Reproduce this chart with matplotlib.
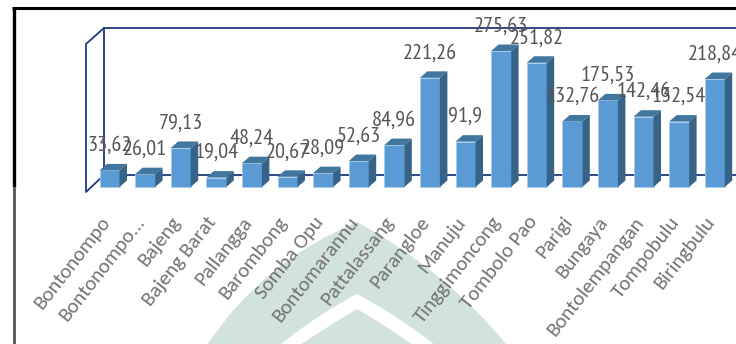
import matplotlib
matplotlib.use("Agg")
import matplotlib.pyplot as plt
from matplotlib.patches import Polygon, PathPatch
from matplotlib.path import Path
from matplotlib.transforms import ScaledTranslation

districts = ["Bontonompo", "Bontonompo...", "Bajeng", "Bajeng Barat", "Pallangga",
             "Barombong", "Somba Opu", "Bontomarannu", "Pattalassang", "Parangloe",
             "Manuju", "Tinggimoncong", "Tombolo Pao", "Parigi", "Bungaya",
             "Bontolempangan", "Tompobulu", "Biringbulu"]
values = [33.62, 26.01, 79.13, 19.04, 48.24, 20.67, 28.09, 52.63, 84.96,
          221.26, 91.9, 275.63, 251.82, 132.76, 175.53, 142.46, 132.54, 218.84]
value_labels = ["33,62", "26,01", "79,13", "19,04", "48,24", "20,67", "28,09", "52,63",
                "84,96", "221,26", "91,9", "275,63", "251,82", "132,76", "175,53",
                "142,46", "132,54", "218,84"]

W, H = 736, 344
FRONT, TOP, SIDE, EDGE = "#5B9BD5", "#41779F", "#376388", "#A9CCEA"
NAVY = "#1F3A7D"
TEXT = "#555555"
TICK = "#737373"

fig = plt.figure(figsize=(W / 100, H / 100), dpi=100, facecolor="white")

# Pixel-space layer for the page frame, the backdrop emblem and the chart walls
page = fig.add_axes([0, 0, 1, 1], zorder=0)
page.set_xlim(0, W)
page.set_ylim(H, 0)
page.axis("off")


def arch(verts, color):
    codes = [Path.MOVETO, Path.CURVE3, Path.CURVE3, Path.CURVE3, Path.CURVE3, Path.CLOSEPOLY]
    page.add_patch(PathPatch(Path(verts + [verts[0]], codes), fc=color, ec="none"))


arch([(207, 345), (262, 262), (357, 222), (445, 270), (507, 345)], "#D2E3DD")
arch([(280, 345), (315, 316), (357, 294), (395, 314), (435, 345)], "white")
arch([(300, 345), (328, 326), (357, 309), (385, 325), (413, 345)], "#D2E3DD")

# Page frame
page.plot([13.5, 13.5], [8, 187], color="black", lw=2.4, solid_capstyle="butt")
page.plot([13.5, 13.5], [187, 344], color="#555555", lw=2.0, solid_capstyle="butt")
page.plot([12, 736], [8, 8], color="black", lw=2.2, solid_capstyle="butt")

# Chart walls and floor
page.plot([736, 104, 104, 736], [28, 28, 175, 175], color=NAVY, lw=1.3)
page.plot([104, 86, 86, 104], [28, 44, 192, 175], color=NAVY, lw=1.3)

# Data axes: value 0 lies on the front base line of the columns
PX_PER_UNIT = 0.4934
PX_PER_CAT = 35.6
x_left, x_right = 86, 736
y_top, y_base = 8, 187
ax = fig.add_axes([x_left / W, 1 - y_base / H, (x_right - x_left) / W, (y_base - y_top) / H],
                  zorder=1)
ax.patch.set_alpha(0)
ax.set_xlim((x_left - 109.5) / PX_PER_CAT, (x_right - 109.5) / PX_PER_CAT)
ax.set_ylim(0, (y_base - y_top) / PX_PER_UNIT)
for s in ax.spines.values():
    s.set_visible(False)
ax.yaxis.set_visible(False)

bar_w = 20 / PX_PER_CAT
dx = 7.5 / PX_PER_CAT
dy = 6.5 / PX_PER_UNIT

positions = list(range(len(values)))
ax.bar(positions, values, width=bar_w, color=FRONT, edgecolor=EDGE, linewidth=0.6,
       zorder=3, clip_on=False)
for x, v in zip(positions, values):
    l, r = x - bar_w / 2, x + bar_w / 2
    ax.add_patch(Polygon([(l, v), (r, v), (r + dx, v + dy), (l + dx, v + dy)],
                         fc=TOP, ec="none", zorder=3, clip_on=False))
    ax.add_patch(Polygon([(r, 0), (r + dx, dy), (r + dx, v + dy), (r, v)],
                         fc=SIDE, ec="none", zorder=3, clip_on=False))

for x, v, s in zip(positions, values, value_labels):
    ax.annotate(s, (x, v), xytext=(0, 18), textcoords="offset points", ha="center",
                va="center", fontsize=16, color=TEXT, zorder=4, annotation_clip=False,
                family=["PT Sans Narrow", "Liberation Sans", "DejaVu Sans"])

ax.set_xticks(positions)
ax.set_xticklabels(districts, rotation=52, ha="right", va="top", rotation_mode="anchor",
                   fontsize=15, color=TICK, family=["Carlito", "Lato", "DejaVu Sans"])
ax.tick_params(axis="x", length=0, pad=19)
shift = ScaledTranslation(-10 / 100, 0, fig.dpi_scale_trans)
for lab in ax.get_xticklabels():
    lab.set_transform(lab.get_transform() + shift)

fig.savefig("out.png", dpi=100, facecolor="white")
